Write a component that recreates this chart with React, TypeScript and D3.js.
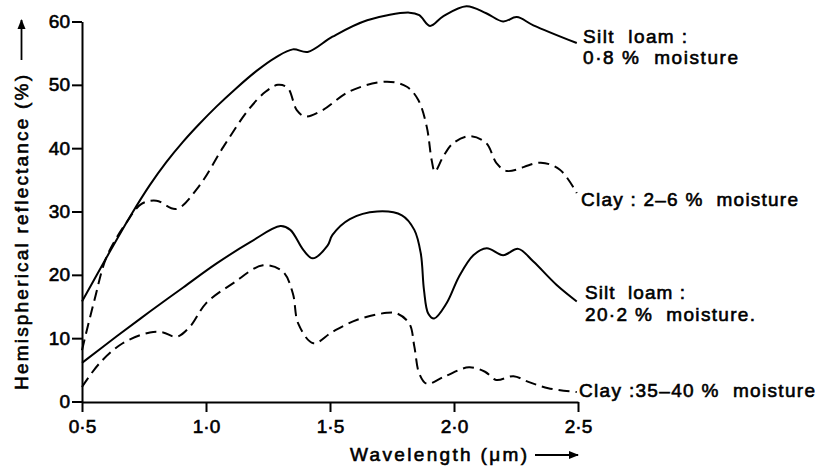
import React, { useEffect, useRef } from "react";
import * as d3 from "d3";

// Spectral reflectance of two soils at two moisture levels
const siltDry: [number, number][] = [
  [0.5, 15.8], [0.6, 22.8], [0.7, 29.6], [0.774, 34.2], [0.84, 37.8], [0.907, 41.0],
  [0.97, 43.7], [1.043, 46.6], [1.12, 49.4], [1.204, 52.2], [1.28, 54.3], [1.35, 55.6],
  [1.41, 55.2], [1.51, 57.6], [1.65, 60.2], [1.82, 61.4], [1.86, 61.0],
  [1.903, 59.3], [1.956, 60.8], [2.05, 62.4], [2.13, 61.3], [2.198, 60.0], [2.253, 60.7],
  [2.32, 59.4], [2.495, 56.6],
];
const clayDry: [number, number][] = [
  [0.5, 8.1], [0.55, 16.0], [0.6, 22.9], [0.68, 28.3], [0.74, 31.2], [0.8, 31.7],
  [0.88, 30.4], [0.97, 33.9], [1.07, 40.2], [1.17, 46.0], [1.24, 48.9], [1.29, 50.0],
  [1.33, 49.5], [1.366, 46.0], [1.4, 45.0], [1.47, 46.0], [1.58, 49.0], [1.73, 50.5],
  [1.81, 49.7], [1.856, 47.6], [1.89, 43.4], [1.91, 38.1], [1.923, 36.3], [1.957, 38.7],
  [1.997, 40.8], [2.065, 41.9], [2.13, 40.8], [2.172, 37.6], [2.213, 36.4], [2.35, 37.7],
  [2.427, 36.6], [2.495, 32.9],
];
const siltWet: [number, number][] = [
  [0.5, 6.1], [0.64, 10.3], [0.774, 14.2], [0.908, 18.0], [1.043, 21.8], [1.18, 25.2],
  [1.3, 27.7], [1.34, 27.1], [1.393, 23.9], [1.43, 22.6], [1.49, 24.6], [1.51, 26.3],
  [1.58, 28.8], [1.69, 30.0], [1.79, 29.4], [1.84, 27.1], [1.866, 23.4], [1.879, 17.6],
  [1.896, 13.9], [1.92, 13.1], [1.97, 15.5], [2.02, 19.7], [2.078, 23.1], [2.132, 24.2],
  [2.198, 23.1], [2.259, 24.1], [2.32, 22.1], [2.414, 18.4], [2.495, 15.8],
];
const clayWet: [number, number][] = [
  [0.5, 2.3], [0.57, 6.0], [0.664, 9.2], [0.774, 10.9], [0.827, 10.9], [0.88, 10.2],
  [0.935, 11.8], [1.0, 15.5], [1.11, 18.7], [1.23, 21.5], [1.31, 20.5], [1.35, 17.1],
  [1.372, 12.3], [1.433, 9.2], [1.51, 11.0], [1.61, 12.9], [1.73, 14.0], [1.77, 13.9],
  [1.82, 12.3], [1.84, 8.7], [1.86, 4.4], [1.89, 2.8], [1.96, 3.9], [2.06, 5.4],
  [2.125, 4.7], [2.17, 3.4], [2.24, 4.0], [2.3, 3.1], [2.38, 2.1], [2.495, 1.5],
];

const xTicks = [0.5, 1.0, 1.5, 2.0, 2.5];
const yTicks = [0, 10, 20, 30, 40, 50, 60];

const seriesList = [
  { data: siltDry, dashed: false },
  { data: clayDry, dashed: true },
  { data: siltWet, dashed: false },
  { data: clayWet, dashed: true },
];

const curveLabels = [
  { lines: ["Silt  loam :", "0·8 %  moisture"], x: 583, y: [42.5, 64.3], w: [104, 155] },
  { lines: ["Clay : 2–6 %  moisture"], x: 581, y: [205.5], w: [217] },
  { lines: ["Silt  loam :", "20·2 %  moisture."], x: 585, y: [299, 320.5], w: [100, 170] },
  { lines: ["Clay :35–40 %  moisture"], x: 579, y: [396.5], w: [236] },
];

const FONT = "'Liberation Sans', Arial, Helvetica, sans-serif";
const TEXT_STROKE = 0.6;

export default function App() {
  const ref = useRef<SVGSVGElement | null>(null);

  useEffect(() => {
    const svg = d3.select(ref.current);
    svg.selectAll("*").remove();

    const x = d3.scaleLinear().domain([0.5, 2.5]).range([82, 578]);
    const y = d3.scaleLinear().domain([0, 60]).range([401.5, 21.5]);

    const defs = svg.append("defs");
    defs
      .append("marker")
      .attr("id", "arrowHead")
      .attr("viewBox", "0 0 10 10")
      .attr("refX", 9)
      .attr("refY", 5)
      .attr("markerWidth", 10)
      .attr("markerHeight", 10)
      .attr("markerUnits", "userSpaceOnUse")
      .attr("orient", "auto")
      .append("path")
      .attr("d", "M0,1 L10,5 L0,9 Z")
      .attr("fill", "#000");

    // axes
    const xAxis = d3
      .axisBottom(x)
      .tickValues(xTicks)
      .tickSize(10)
      .tickSizeOuter(0)
      .tickPadding(8)
      .tickFormat((d) => d3.format(".1f")(d as number).replace(".", "·"));
    const gx = svg.append("g").attr("transform", "translate(0,402)").call(xAxis);
    gx.select(".domain").attr("stroke-width", 2);
    gx.selectAll(".tick line").attr("stroke-width", 2);
    gx.selectAll("text")
      .attr("font-family", FONT)
      .attr("font-size", 19)
      .attr("fill", "#000")
      .attr("stroke", "#000")
      .attr("stroke-width", TEXT_STROKE);

    const yAxis = d3
      .axisLeft(y)
      .tickValues(yTicks)
      .tickSize(10)
      .tickSizeOuter(0)
      .tickPadding(2)
      .tickFormat((d) => String(d));
    const gy = svg.append("g").attr("transform", "translate(82,0)").call(yAxis);
    gy.select(".domain").attr("stroke-width", 2);
    gy.selectAll(".tick line").attr("stroke-width", 2);
    gy.selectAll("text")
      .attr("font-family", FONT)
      .attr("font-size", 19)
      .attr("fill", "#000")
      .attr("stroke", "#000")
      .attr("stroke-width", TEXT_STROKE);

    // curves
    const line = d3
      .line<[number, number]>()
      .x((d) => x(d[0]))
      .y((d) => y(d[1]))
      .curve(d3.curveCatmullRom.alpha(0.5));

    seriesList.forEach((s) => {
      svg
        .append("path")
        .attr("d", line(s.data) || "")
        .attr("fill", "none")
        .attr("stroke", "#000")
        .attr("stroke-width", 2)
        .attr("stroke-linejoin", "round")
        .attr("stroke-dasharray", s.dashed ? "11,6" : null);
    });

    // curve labels
    curveLabels.forEach((lab) => {
      lab.lines.forEach((t, i) => {
        svg
          .append("text")
          .attr("x", lab.x)
          .attr("y", lab.y[i])
          .attr("textLength", lab.w[i])
          .attr("lengthAdjust", "spacing")
          .attr("font-family", FONT)
          .attr("font-size", 19)
          .attr("fill", "#000")
          .attr("stroke", "#000")
          .attr("stroke-width", TEXT_STROKE)
          .style("white-space", "pre")
          .text(t);
      });
    });

    // axis titles
    svg
      .append("text")
      .attr("x", 350)
      .attr("y", 461)
      .attr("textLength", 177)
      .attr("lengthAdjust", "spacing")
      .attr("font-family", FONT)
      .attr("font-size", 19)
      .attr("fill", "#000")
      .attr("stroke", "#000")
      .attr("stroke-width", TEXT_STROKE)
      .text("Wavelength (μm)");
    svg
      .append("line")
      .attr("x1", 535)
      .attr("x2", 578)
      .attr("y1", 455)
      .attr("y2", 455)
      .attr("stroke", "#000")
      .attr("stroke-width", 1.8)
      .attr("marker-end", "url(#arrowHead)");

    svg
      .append("text")
      .attr("transform", "translate(28,390) rotate(-90)")
      .attr("textLength", 315)
      .attr("lengthAdjust", "spacing")
      .attr("font-family", FONT)
      .attr("font-size", 19)
      .attr("fill", "#000")
      .attr("stroke", "#000")
      .attr("stroke-width", TEXT_STROKE)
      .text("Hemispherical reflectance (%)");
    svg
      .append("line")
      .attr("x1", 21.5)
      .attr("x2", 21.5)
      .attr("y1", 60)
      .attr("y2", 20)
      .attr("stroke", "#000")
      .attr("stroke-width", 1.8)
      .attr("marker-end", "url(#arrowHead)");
  }, []);

  return (
    <svg
      ref={ref}
      width={819}
      height={470}
      style={{ position: "absolute", left: 0, top: 0, background: "#fff", display: "block" }}
    />
  );
}
